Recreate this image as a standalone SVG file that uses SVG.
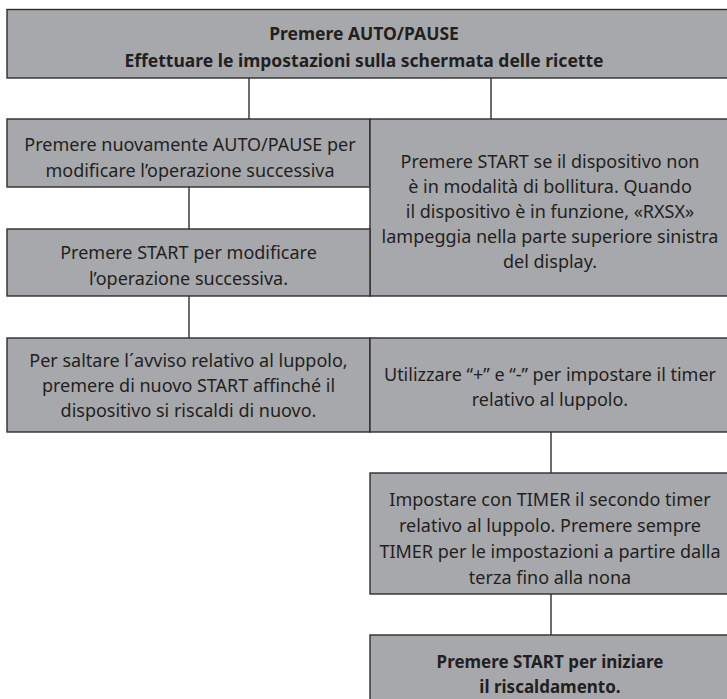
<svg xmlns="http://www.w3.org/2000/svg" width="727" height="699" viewBox="0 0 727 699">
<style>
.box{fill:#a7a8ab;stroke:#2e2e2e;stroke-width:1.4}
.conn line{stroke:#2e2e2e;stroke-width:1.4}
text{font-family:"Noto Sans","Liberation Sans",sans-serif;font-size:18px;fill:#231f20;text-anchor:middle}
.b{font-weight:bold;font-size:17.5px}
.b2{font-weight:bold;font-size:17px}
</style>
<rect width="727" height="699" fill="#ffffff"/>
<g class="conn">
<line x1="249" y1="78" x2="249" y2="119"/>
<line x1="491" y1="78" x2="491" y2="119"/>
<line x1="189" y1="187" x2="189" y2="229"/>
<line x1="189" y1="296" x2="189" y2="338"/>
<line x1="551" y1="432" x2="551" y2="473"/>
<line x1="551" y1="594" x2="551" y2="635"/>
</g>
<g id="n0">
<rect class="box" x="7" y="9.5" width="730" height="68.5"/>
<text class="b" x="364" y="40">Premere AUTO/PAUSE</text>
<text class="b" x="364" y="67">Effettuare le impostazioni sulla schermata delle ricette</text>
</g>
<g id="n1">
<rect class="box" x="7" y="119" width="363" height="68"/>
<text x="190" y="151">Premere nuovamente AUTO/PAUSE per</text>
<text x="190" y="177">modificare l’operazione successiva</text>
</g>
<g id="n2">
<rect class="box" x="370" y="119" width="367" height="177"/>
<text x="550" y="168">Premere START se il dispositivo non</text>
<text x="550" y="193">è in modalità di bollitura. Quando</text>
<text x="550" y="218">il dispositivo è in funzione, «RXSX»</text>
<text x="550" y="243">lampeggia nella parte superiore sinistra</text>
<text x="550" y="268">del display.</text>
</g>
<g id="n3">
<rect class="box" x="7" y="229" width="363" height="67"/>
<text x="188.5" y="259">Premere START per modificare</text>
<text x="188.5" y="285">l’operazione successiva.</text>
</g>
<g id="n4">
<rect class="box" x="7" y="338" width="363" height="94"/>
<text x="188.5" y="367">Per saltare l´avviso relativo al luppolo,</text>
<text x="188.5" y="392">premere di nuovo START affinché il</text>
<text x="188.5" y="417">dispositivo si riscaldi di nuovo.</text>
</g>
<g id="n5">
<rect class="box" x="370" y="338" width="367" height="94"/>
<text x="550" y="381">Utilizzare “+” e “-” per impostare il timer</text>
<text x="550" y="406">relativo al luppolo.</text>
</g>
<g id="n6">
<rect class="box" x="370" y="473" width="367" height="121"/>
<text x="550" y="506">Impostare con TIMER il secondo timer</text>
<text x="550" y="532">relativo al luppolo. Premere sempre</text>
<text x="550" y="558">TIMER per le impostazioni a partire dalla</text>
<text x="550" y="584">terza fino alla nona</text>
</g>
<g id="n7">
<rect class="box" x="370" y="635" width="367" height="80"/>
<text class="b2" x="550" y="668">Premere START per iniziare</text>
<text class="b2" x="550" y="693">il riscaldamento.</text>
</g>
</svg>
